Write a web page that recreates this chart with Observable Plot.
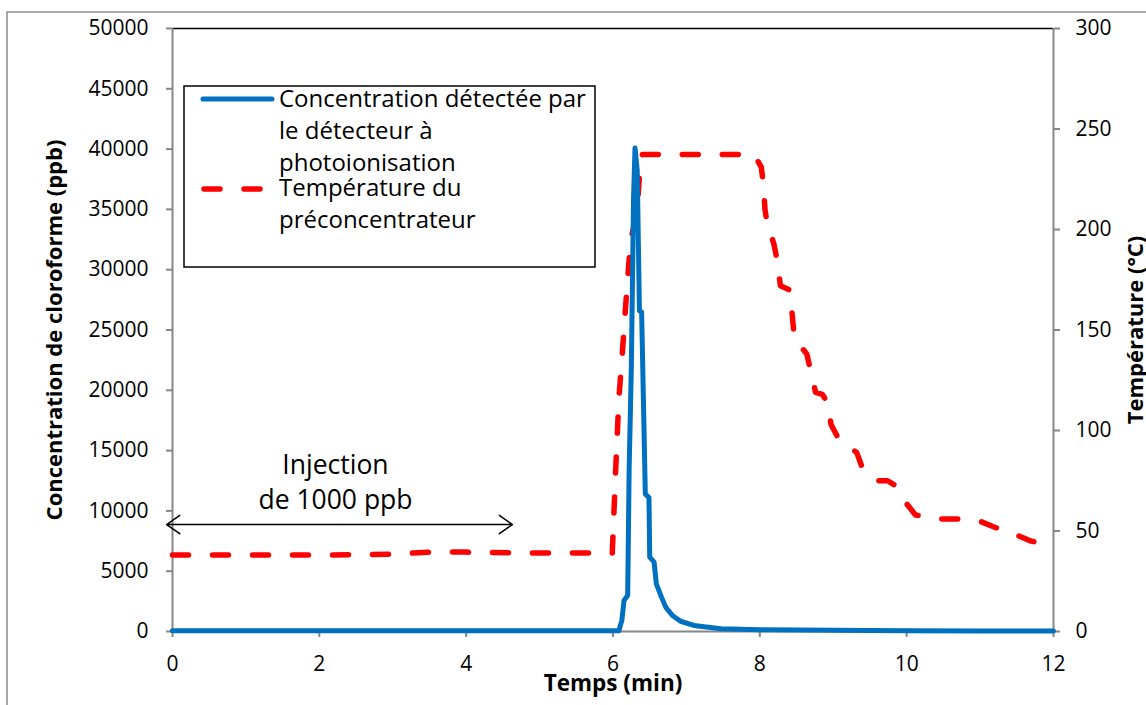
<!DOCTYPE html>
<html>
<head>
<meta charset="utf-8">
<script src="https://cdn.jsdelivr.net/npm/d3@7"></script>
<script src="https://cdn.jsdelivr.net/npm/@observablehq/plot@0.6"></script>
<style>
  html, body { margin: 0; padding: 0; background: white; overflow: hidden; }
  #chart { position: relative; width: 1146px; height: 705px; }
</style>
</head>
<body>
<div id="chart"></div>
<script>
// ---- Data ----
const concTime = [0, 1, 2, 3, 4, 5, 6, 6.08, 6.12, 6.15, 6.2, 6.22, 6.25, 6.28, 6.3, 6.33, 6.36, 6.39, 6.44, 6.49, 6.5, 6.56, 6.59, 6.66, 6.72, 6.81, 6.92, 7.1, 7.47, 8, 9, 10, 11, 12];
const concValue = [60, 60, 60, 60, 60, 60, 60, 60, 900, 2570, 3000, 13500, 22000, 36000, 40100, 38200, 26600, 26500, 11400, 11100, 6160, 5750, 3950, 2850, 2000, 1330, 850, 500, 220, 150, 100, 60, 50, 40];

const tempTime = [0, 1, 2, 3, 3.5, 4, 5, 5.99, 6.04, 6.08, 6.12, 6.19, 6.24, 6.33, 6.37, 6.4, 7, 7.92, 8.02, 8.05, 8.07, 8.1, 8.19, 8.24, 8.28, 8.4, 8.42, 8.47, 8.64, 8.76, 8.85, 8.92, 8.97, 9.07, 9.32, 9.39, 9.6, 9.74, 9.83, 9.99, 10.12, 10.44, 10.69, 10.99, 11.19, 11.46, 11.69, 12.0];
const tempValue = [38, 38, 38, 38.5, 39.5, 39.5, 39, 39, 83.5, 116, 135, 171, 194.5, 209, 233, 237.3, 237.3, 237.3, 231, 222, 210, 203, 193, 184, 172, 170, 166, 146, 138, 119, 118, 114, 103, 96, 89, 82, 75, 75, 73, 64, 58, 56, 56, 55, 52, 48.6, 45, 42.8];

const xTicks = [0, 2, 4, 6, 8, 10, 12];
const leftTicks = [0, 5000, 10000, 15000, 20000, 25000, 30000, 35000, 40000, 45000, 50000];
const rightTicks = [0, 50, 100, 150, 200, 250, 300];

const annotTime = [2.22, 2.22];
const annotConc = [13760, 10860];
const annotLabel = ["Injection", "de 1000 ppb"];

const arrowFrom = [2.3, 2.3];
const arrowTo = [-0.08, 4.63];
const arrowLevel = 8870;

const seriesNames = ["Concentration détectée par\nle détecteur à\nphotoionisation", "Température du\npréconcentrateur"];
const xTitle = "Temps (min)";
const yLeftTitle = "Concentration de cloroforme (ppb)";
const yRightTitle = "Température (°C)";

// ---- Derived ----
const yMax = 50000, tMax = 300, k = yMax / tMax;
const concData = concTime.map((t, i) => ({t, v: concValue[i]}));
const tempData = tempTime.map((t, i) => ({t, v: tempValue[i] * k}));
const annots = annotTime.map((t, i) => ({t, v: annotConc[i], label: annotLabel[i]}));
const arrows = arrowFrom.map((a, i) => ({x1: a, x2: arrowTo[i], y: arrowLevel}));

const blue = "#0070C0", red = "#FF0000", axisGray = "#878787";
const font = "'Open Sans', Lato, sans-serif";

const plot = Plot.plot({
  width: 1146,
  height: 705,
  marginLeft: 172,
  marginRight: 93,
  marginTop: 28,
  marginBottom: 74,
  style: {fontFamily: font, fontSize: "21px", color: "black", background: "white"},
  x: {domain: [0, 12]},
  y: {domain: [0, yMax]},
  marks: [
    Plot.ruleY([yMax], {stroke: "black", strokeWidth: 1.5}),
    Plot.ruleX([0], {stroke: axisGray, strokeWidth: 2}),
    Plot.ruleX([12], {stroke: axisGray, strokeWidth: 2}),
    Plot.axisX(xTicks, {tickSize: 6, tickPadding: 19, stroke: axisGray, strokeWidth: 2, fill: "black", label: null, fontSize: 21}),
    Plot.axisY(leftTicks, {anchor: "left", tickSize: 6, tickPadding: 18, stroke: axisGray, strokeWidth: 2, fill: "black", label: null, tickFormat: d => String(d), fontSize: 21}),
    Plot.axisY(rightTicks.map(d => d * k), {anchor: "right", tickSize: 6, tickPadding: 16, stroke: axisGray, strokeWidth: 2, fill: "black", label: null, tickFormat: d => String(Math.round(d / k)), fontSize: 21}),
    Plot.line(tempData, {x: "t", y: "v", stroke: red, strokeWidth: 5.5, strokeDasharray: "16,24", strokeLinecap: "round", strokeLinejoin: "round"}),
    Plot.ruleY([0], {stroke: axisGray, strokeWidth: 2}),
    Plot.line(concData, {x: "t", y: "v", stroke: blue, strokeWidth: 5, strokeLinejoin: "round"}),
    Plot.arrow(arrows, {x1: "x1", x2: "x2", y1: "y", y2: "y", stroke: "black", strokeWidth: 1.5, headLength: 16, headAngle: 70}),
    Plot.text(annots, {x: "t", y: "v", text: "label", fontSize: 26.5, fill: "black"}),
    Plot.text([yLeftTitle], {frameAnchor: "left", textAnchor: "middle", lineAnchor: "middle", dx: -118, rotate: -90, fontWeight: "bold", fontSize: 22}),
    Plot.text([yRightTitle], {frameAnchor: "right", textAnchor: "middle", lineAnchor: "middle", dx: 82, rotate: -90, fontWeight: "bold", fontSize: 22}),
    Plot.text([xTitle], {frameAnchor: "bottom", textAnchor: "middle", lineAnchor: "middle", dy: 52, fontWeight: "bold", fontSize: 22.5})
  ]
});

document.getElementById("chart").appendChild(plot);

// Outer chart border and legend box
const svg = d3.select(plot);
svg.append("rect").attr("x", 7).attr("y", 12).attr("width", 1300).attr("height", 900)
  .attr("fill", "none").attr("stroke", "#8c8c8c").attr("stroke-width", 1.5);

const lg = svg.append("g").attr("font-family", font).attr("font-size", 24).attr("text-anchor", "start");
lg.append("rect").attr("x", 184).attr("y", 86).attr("width", 411).attr("height", 181)
  .attr("fill", "white").attr("stroke", "black").attr("stroke-width", 1.5);
lg.append("line").attr("x1", 203).attr("x2", 272).attr("y1", 99).attr("y2", 99)
  .attr("stroke", blue).attr("stroke-width", 5).attr("stroke-linecap", "round");
lg.append("line").attr("x1", 204).attr("x2", 264).attr("y1", 189).attr("y2", 189)
  .attr("stroke", red).attr("stroke-width", 5.5).attr("stroke-dasharray", "16,24").attr("stroke-linecap", "round");
const names = seriesNames.map(s => s.split("\n"));
const lines = [
  [names[0][0], 106.7],
  [names[0][1], 139],
  [names[0][2], 171.3],
  [names[1][0], 195.7],
  [names[1][1], 228]
];
lines.forEach(([txt, y]) => {
  lg.append("text").attr("x", 279).attr("y", y).attr("fill", "black").text(txt);
});
</script>
</body>
</html>
